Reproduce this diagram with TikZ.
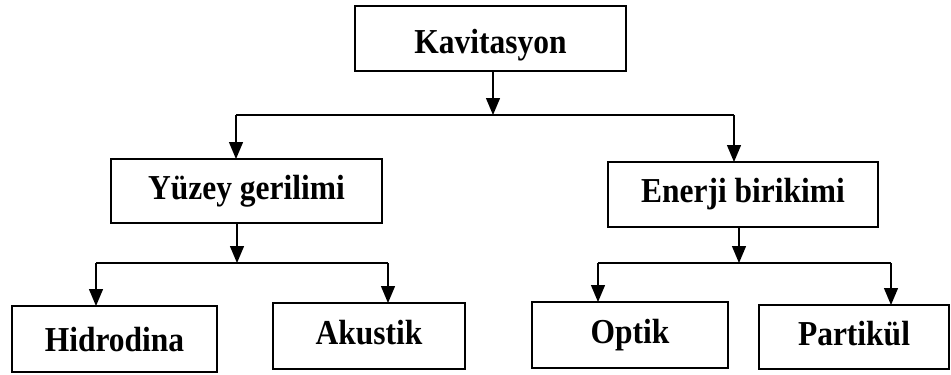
\documentclass[tikz,border=0pt]{standalone}
\usepackage{fontspec}
\setmainfont{Liberation Serif}
\newfontfamily\boxfont[FakeStretch=0.9]{Liberation Serif}
\usetikzlibrary{arrows.meta}
\begin{document}
\begin{tikzpicture}[x=1pt,y=-1pt,
  box/.style={draw,line width=2.8pt,inner sep=0pt,outer sep=0pt,text height=24pt,text depth=8pt,font=\boxfont\bfseries\fontsize{35}{40}\selectfont},
  conn/.style={line width=1.3pt},
  arr/.style={conn,-{Triangle[length=17pt,width=14pt]}}]
\useasboundingbox (0,0) rectangle (951,375);
\node[box,minimum width=271pt,minimum height=65pt,text height=36pt,text depth=7pt] (kav) at (490.5,38.5) {Kavitasyon};
\node[box,minimum width=271pt,minimum height=64pt] (yuz) at (246.5,191) {Yüzey gerilimi};
\node[box,minimum width=270pt,minimum height=65pt] (ene) at (743,194.5) {Enerji birikimi};
\node[box,minimum width=205pt,minimum height=66pt,text height=30pt,text depth=6pt] (hid) at (114.5,339) {Hidrodina};
\node[box,minimum width=192pt,minimum height=66pt] (aku) at (369,336) {Akustik};
\node[box,minimum width=196pt,minimum height=66pt] (opt) at (630,335) {Optik};
\node[box,minimum width=190pt,minimum height=64pt] (par) at (854,337) {Partikül};
\coordinate (j1) at (493,115);
\coordinate (l1) at (236,115);
\coordinate (r1) at (734,115);
\coordinate (j2) at (237,263);
\coordinate (l2) at (96,263);
\coordinate (r2) at (388,263);
\coordinate (j3) at (739,263);
\coordinate (l3) at (598,263);
\coordinate (r3) at (891,263);
\draw[arr] (kav.south -| j1) -- (j1);
\draw[conn] (l1) -- (r1);
\draw[arr] (l1) -- (l1 |- yuz.north);
\draw[arr] (r1) -- (r1 |- ene.north);
\draw[arr] (yuz.south -| j2) -- (j2);
\draw[conn] (l2) -- (r2);
\draw[arr] (l2) -- (l2 |- hid.north);
\draw[arr] (r2) -- (r2 |- aku.north);
\draw[arr] (ene.south -| j3) -- (j3);
\draw[conn] (l3) -- (r3);
\draw[arr] (l3) -- (l3 |- opt.north);
\draw[arr] (r3) -- (r3 |- par.north);
\end{tikzpicture}
\end{document}
